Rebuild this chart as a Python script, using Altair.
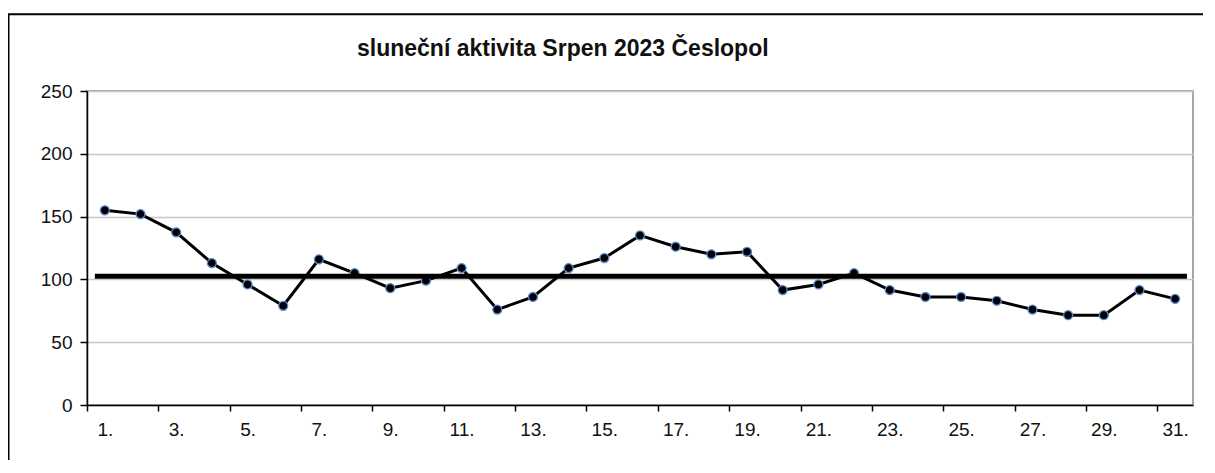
import altair as alt
import pandas as pd

days = list(range(1, 32))
values = [155, 152, 137.5, 113, 96, 79, 116, 105, 93, 99,
          109, 76, 86, 109, 117, 135, 126, 120, 122, 91.5,
          96, 105, 91.5, 86, 86, 83, 76, 71.5, 71.5, 91.5, 84.5]
title_text = "sluneční aktivita Srpen 2023 Česlopol"
y_ticks = [0, 50, 100, 150, 200, 250]
x_ticks = [d - 0.5 for d in range(1, 33)]  # category boundaries
mean_value = sum(values) / len(values)
mean_span = [0.72, 31.33]

W, H = 1106, 314
band = W / 31

df = pd.DataFrame({"day": days, "value": values})
mean_df = pd.DataFrame({"x": [mean_span[0]], "x2": [mean_span[1]], "y": [mean_value]})

FONT = "Liberation Sans"

x_scale = alt.Scale(domain=[0.5, 31.5], nice=False, zero=False)
y_scale = alt.Scale(domain=[0, 250], nice=False)

x_axis = alt.Axis(values=x_ticks, title=None, grid=False,
                  labelExpr="datum.value % 2 == 0.5 ? format(datum.value + 0.5, 'd') + '.' : ''",
                  labelOffset=band / 2, labelOverlap=False, labelFlush=False, labelBound=False,
                  tickSize=6, tickColor="black", tickWidth=1.5,
                  domainColor="black", domainWidth=1.5, labelPadding=9,
                  labelFont=FONT, labelFontSize=19, labelColor="#111111")
y_axis = alt.Axis(values=y_ticks, title=None, grid=True, gridColor="#c8c8c8", gridWidth=1.5,
                  tickSize=7, tickColor="black", tickWidth=1.5,
                  domainColor="black", domainWidth=1.5, labelPadding=8,
                  labelFont=FONT, labelFontSize=19, labelColor="#111111")

frame = alt.Chart(alt.Data(values=[{"a": 1}])).mark_rect(
    filled=False, stroke="black", strokeWidth=2
).encode(x=alt.value(-78.5), x2=alt.value(1160), y=alt.value(-76.7), y2=alt.value(420))

title_mark = alt.Chart(alt.Data(values=[{"t": title_text}])).mark_text(
    align="left", baseline="alphabetic", font=FONT, fontSize=23, fontWeight="bold", color="#111111"
).encode(x=alt.value(270), y=alt.value(-35), text="t:N")

base = alt.Chart(df)
line = base.mark_line(color="black", strokeWidth=3).encode(
    x=alt.X("day:Q", scale=x_scale, axis=x_axis),
    y=alt.Y("value:Q", scale=y_scale, axis=y_axis),
)
pts = base.mark_point(filled=True, fill="black", stroke="#5a8ad0", strokeWidth=1.3,
                      size=80, opacity=1).encode(
    x=alt.X("day:Q", scale=x_scale),
    y=alt.Y("value:Q", scale=y_scale),
)
mean_rule = alt.Chart(mean_df).mark_rule(color="black", strokeWidth=5).encode(
    x=alt.X("x:Q", scale=x_scale),
    x2="x2:Q",
    y=alt.Y("y:Q", scale=y_scale),
)

chart = alt.layer(frame, title_mark, line, pts, mean_rule).properties(
    width=W, height=H,
    autosize=alt.AutoSizeParams(type="none"),
    padding={"left": 79, "top": 83, "right": 10, "bottom": 55},
).configure_view(stroke="#a6a6a6", strokeWidth=2)

chart.save("out.html", embed_options={"renderer": "svg", "actions": False})
